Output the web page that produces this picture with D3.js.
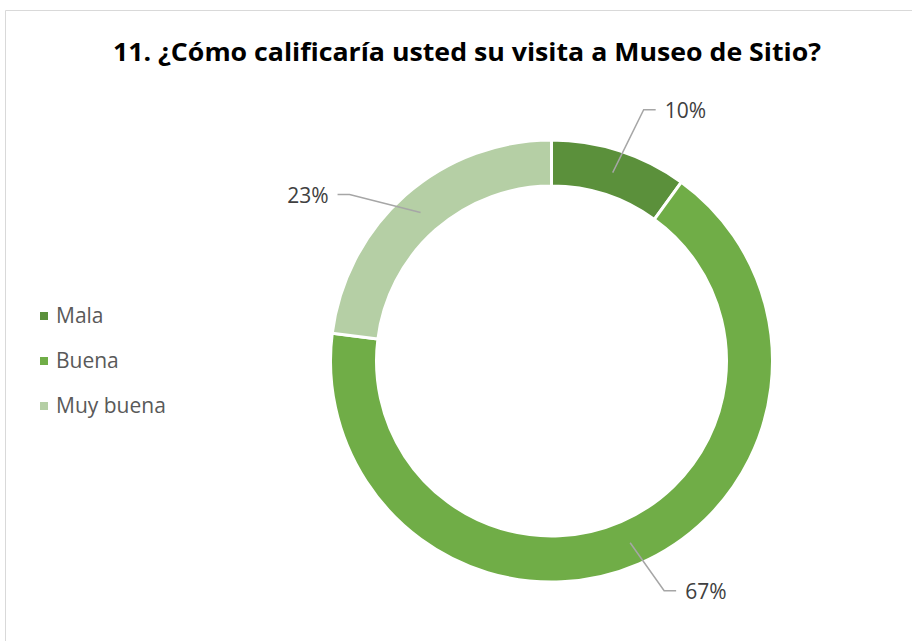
<!DOCTYPE html>
<html>
<head>
<meta charset="utf-8">
<script src="https://cdn.jsdelivr.net/npm/d3@7"></script>
<style>
  body { margin: 0; background: #fff; }
  text { font-family: "Open Sans", "Liberation Sans", Arial, sans-serif; }
</style>
</head>
<body>
<div id="chart"></div>
<script>
var categories = ["Mala", "Buena", "Muy buena"];
var values = [10, 67, 23];
var colors = ["#5b903b", "#70ad47", "#b5cfa5"];
// label leader elbows, offset from slice centroid (as placed in the source)
var labelOffsets = [[31, -63], [34, 48], [-71, -18]];

var width = 912, height = 641;
var cx = 551.5, cy = 361, outerR = 221, innerR = 175;

var svg = d3.select("#chart").append("svg")
  .attr("width", width).attr("height", height);

// chart frame
svg.append("path")
  .attr("d", "M5.5," + height + "V10.5H" + width)
  .attr("fill", "none").attr("stroke", "#d9d9d9").attr("stroke-width", 1);

svg.append("text")
  .attr("x", 467).attr("y", 61)
  .attr("text-anchor", "middle")
  .style("font-size", "25px").style("font-weight", "bold").style("fill", "#000")
  .attr("textLength", 708).attr("lengthAdjust", "spacingAndGlyphs")
  .text("11. ¿Cómo calificaría usted su visita a Museo de Sitio?");

var pie = d3.pie().sort(null).value(function (d) { return d; });
var arcs = pie(values);
var arc = d3.arc().innerRadius(innerR).outerRadius(outerR);
var total = d3.sum(values);

var g = svg.append("g").attr("transform", "translate(" + cx + "," + cy + ")");

g.selectAll("path.slice").data(arcs).enter().append("path")
  .attr("class", "slice")
  .attr("d", arc)
  .attr("fill", function (d, i) { return colors[i]; })
  .attr("stroke", "#fff").attr("stroke-width", 3);

// leader lines and labels
arcs.forEach(function (d, i) {
  var c = arc.centroid(d);
  var ex = c[0] + labelOffsets[i][0], ey = c[1] + labelOffsets[i][1];
  var dir = ex > 0 ? 1 : -1;
  g.append("polyline")
    .attr("points", [c, [ex, ey], [ex + dir * 12, ey]].map(function (p) { return p.join(","); }).join(" "))
    .attr("fill", "none").attr("stroke", "#a6a6a6").attr("stroke-width", 1.5);
  g.append("text")
    .attr("x", ex + dir * 21).attr("y", ey + 8.5)
    .attr("text-anchor", dir > 0 ? "start" : "end")
    .style("font-size", "21px").style("fill", "#404040")
    .text(Math.round(d.value / total * 100) + "%");
});

// legend
var legend = svg.append("g").attr("transform", "translate(40,323)");
var items = legend.selectAll("g").data(categories).enter().append("g")
  .attr("transform", function (d, i) { return "translate(0," + (i * 45) + ")"; });
items.append("rect").attr("x", 0).attr("y", -11).attr("width", 8).attr("height", 8)
  .attr("fill", function (d, i) { return colors[i]; });
items.append("text").attr("x", 16).attr("y", 0)
  .style("font-size", "21px").style("fill", "#595959")
  .text(function (d) { return d; });
</script>
</body>
</html>
